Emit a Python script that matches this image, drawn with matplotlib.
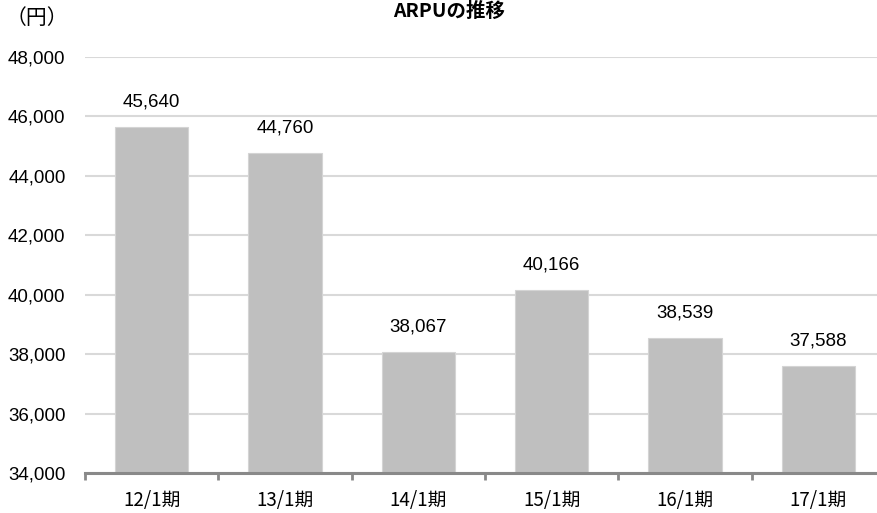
import matplotlib
matplotlib.use("Agg")
import matplotlib.pyplot as plt
from matplotlib.ticker import FixedLocator, FuncFormatter
import numpy as np

categories = ["12/1期", "13/1期", "14/1期", "15/1期", "16/1期", "17/1期"]
values = [45640, 44760, 38067, 40166, 38539, 37588]
yticks = [34000, 36000, 38000, 40000, 42000, 44000, 46000, 48000]
title = "ARPUの推移"
unit = "（円）"

W, H = 878, 513
fig = plt.figure(figsize=(W / 100, H / 100), dpi=100)
# axes spans x 85..885 px (right part clipped by figure edge), y 57..473 px
ax = fig.add_axes([85 / W, (H - 473) / H, 800 / W, 416 / H])

x = np.arange(len(categories))
ax.bar(x, values, width=0.55, color="#BFBFBF", edgecolor="#D4D4D4", linewidth=0.8, zorder=3)

ax.set_ylim(34000, 48000)
ax.set_xlim(-0.5, 5.5)
ax.yaxis.set_major_locator(FixedLocator(yticks))
ax.yaxis.set_major_formatter(FuncFormatter(lambda v, p: f"{int(v):,}"))
ax.grid(axis="y", color="#D9D9D9", linewidth=1.5, zorder=0)
ax.set_axisbelow(True)

for s in ["top", "right", "left"]:
    ax.spines[s].set_visible(False)
ax.spines["bottom"].set_color("#898989")
ax.spines["bottom"].set_linewidth(2.2)
ax.spines["bottom"].set_zorder(4)

ax.tick_params(axis="y", length=0, pad=14, labelsize=13.5)
for lab in ax.get_yticklabels():
    lab.set_family(["Liberation Sans", "DejaVu Sans"])
    lab.set_color("#000000")

# category boundary ticks
ax.set_xticks(np.arange(-0.5, 6.0, 1.0))
ax.set_xticklabels([])
ax.tick_params(axis="x", which="major", length=5, width=2, color="#898989", direction="out")
ax.set_xticks(x, minor=True)
ax.set_xticklabels(categories, minor=True, fontsize=13.5,
                   family=["Noto Sans CJK JP", "DejaVu Sans"])
ax.tick_params(axis="x", which="minor", length=0, pad=12)

for xi, v in zip(x, values):
    ax.annotate(f"{v:,}", (xi, v), xytext=(0, 12), textcoords="offset points",
                ha="center", va="bottom", fontsize=13.5,
                family=["Liberation Sans", "DejaVu Sans"])

fig.text(449 / W, 1 - 11 / H, title, ha="center", va="center", fontsize=14,
         fontweight="bold", family=["Noto Sans CJK JP", "DejaVu Sans"])
fig.text(37 / W, 1 - 18 / H, unit, ha="center", va="center", fontsize=15,
         family=["Noto Sans CJK JP", "DejaVu Sans"])

fig.savefig("out.png", dpi=100)
